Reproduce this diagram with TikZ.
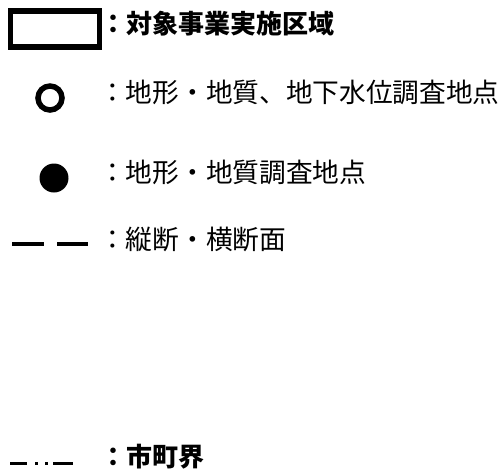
\documentclass[tikz,border=0pt]{standalone}
\usepackage{fontspec}
\newfontfamily\jpfont{Noto Sans CJK JP}
\begin{document}
\begin{tikzpicture}[x=1pt, y=-1pt,
		legtext/.style={anchor=west, inner sep=0pt, text height=0.88em, text depth=0.12em, font=\jpfont\fontsize{26.7}{30}\selectfont},
		legbold/.style={legtext, font=\jpfont\bfseries\fontsize{26}{30}\selectfont}]
		\useasboundingbox (0,0) rectangle (504,475);
		\node [draw, line width = 5.5pt, minimum width = 89pt, minimum height = 36pt, inner sep = 0pt](area) at (55,29) {};
		\node [legbold](area_text) at (100, 30) {：対象事業実施区域};
		\node [circle, draw, line width = 5.5pt, minimum size = 24pt, inner sep = 0pt](bore_open) at (50,98) {};
		\node [legtext](bore_open_text) at (99, 99) {：地形・地質、地下水位調査地点};
		\node [circle, fill, minimum size = 29pt, inner sep = 0pt](bore_fill) at (54,178) {};
		\node [legtext](bore_fill_text) at (99, 179) {：地形・地質調査地点};
		\draw [line width = 4.5pt, dash pattern = on 32pt off 13pt on 31pt] (12,244) -- (88,244);
		\node [legtext](section_text) at (99, 246) {：縦断・横断面};
		\draw [line width = 3pt, dash pattern = on 17pt off 8pt on 3pt off 7pt on 3pt off 5pt on 20pt] (10,463) -- (73,463);
		\node [legbold](border_text) at (100, 463) {：市町界};
		\end{tikzpicture}
\end{document}
